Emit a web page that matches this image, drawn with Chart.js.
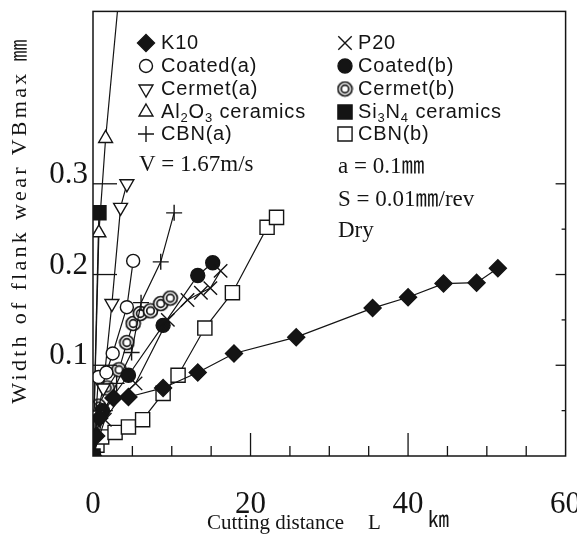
<!DOCTYPE html>
<html><head><meta charset="utf-8">
<script src="https://cdn.jsdelivr.net/npm/chart.js@4.4.1/dist/chart.umd.min.js"></script>
<style>html,body{margin:0;padding:0;background:#fff;}canvas{display:block;}</style>
</head><body>
<canvas id="c" width="577" height="540"></canvas>
<script>
// ---- axis ticks ----
const xTicks = [0, 20, 40, 60];
const xMinorTicks = [5, 10, 15, 25, 30, 35, 45, 50, 55];
const xMajorInner = [20, 40];
const yTicks = [0.1, 0.2, 0.3];
const yRightTicks = [0.05, 0.1, 0.15, 0.2, 0.25, 0.3];

// ---- series (cutting distance km, VBmax mm) ----
const k10X = [0, 0.4, 0.8, 2.6, 4.5, 8.9, 13.3, 17.9, 25.8, 35.5, 40.0, 44.5, 48.7, 51.4];
const k10Y = [0, 0.022, 0.042, 0.064, 0.065, 0.075, 0.092, 0.113, 0.131, 0.163, 0.175, 0.190, 0.191, 0.207];

const coatedAX = [0, 0.7, 1.7, 2.5, 4.3, 5.1];
const coatedAY = [0, 0.087, 0.092, 0.113, 0.164, 0.215];

const cermetAX = [0, 0.5, 1.3, 2.4, 3.5, 4.3];
const cermetAY = [0, 0.045, 0.075, 0.168, 0.274, 0.300];

const al2o3X = [0, 0.75, 1.6, 4.5];
const al2o3Y = [0, 0.246, 0.350, 0.620];

const cbnAX = [0, 1.5, 3.0, 4.9, 6.1, 8.6, 10.3];
const cbnAY = [0, 0.050, 0.080, 0.114, 0.169, 0.214, 0.268];

const p20X = [0, 1.5, 3.5, 5.4, 9.5, 12.0, 13.7, 14.9, 16.2];
const p20Y = [0, 0.040, 0.065, 0.080, 0.150, 0.172, 0.180, 0.185, 0.204];

const coatedBX = [0, 1.2, 4.5, 8.9, 13.3, 15.2];
const coatedBY = [0, 0.050, 0.089, 0.144, 0.199, 0.213];

const cermetBX = [0, 0.7, 1.8, 3.3, 4.3, 5.1, 6.0, 7.3, 8.6, 9.8];
const cermetBY = [0, 0.055, 0.075, 0.095, 0.125, 0.146, 0.157, 0.160, 0.168, 0.174];

const si3n4X = [0, 0.75];
const si3n4Y = [0, 0.268];

const cbnBX = [0, 0.5, 1.1, 2.8, 4.5, 6.3, 8.9, 10.8, 14.2, 17.7, 22.1, 23.3];
const cbnBY = [0, 0.012, 0.021, 0.026, 0.032, 0.040, 0.069, 0.089, 0.141, 0.180, 0.252, 0.263];

const seriesNames = ['K10', 'Coated(a)', 'Cermet(a)', 'Al₂O₃ ceramics', 'CBN(a)',
                     'P20', 'Coated(b)', 'Cermet(b)', 'Si₃N₄ ceramics', 'CBN(b)'];

// ---- helpers ----
const pts = (xs, ys) => xs.map((x, i) => ({x, y: ys[i]}));
const INK = '#141414';

// double circle marker
const dbl = document.createElement('canvas');
dbl.width = 17; dbl.height = 17;
(function(){
  const g = dbl.getContext('2d');
  g.fillStyle = '#fff'; g.strokeStyle = INK; g.lineWidth = 1.7;
  g.beginPath(); g.arc(8.5, 8.5, 7, 0, Math.PI*2); g.fill(); g.stroke();
  g.beginPath(); g.arc(8.5, 8.5, 3.8, 0, Math.PI*2); g.stroke();
})();

const styles = [
  {pointStyle: 'rectRot', radius: 8.5, fill: INK, rot: 0},
  {pointStyle: 'circle', radius: 6.5, fill: '#fff', rot: 0},
  {pointStyle: 'triangle', radius: 8, fill: '#fff', rot: 180},
  {pointStyle: 'triangle', radius: 8, fill: '#fff', rot: 0},
  {pointStyle: 'cross', radius: 8, fill: '#fff', rot: 0},
  {pointStyle: 'crossRot', radius: 9.5, fill: '#fff', rot: 0},
  {pointStyle: 'circle', radius: 7, fill: INK, rot: 0},
  {pointStyle: dbl, radius: 8, fill: '#fff', rot: 0},
  {pointStyle: 'rect', radius: 10, fill: INK, rot: 0},
  {pointStyle: 'rect', radius: 10, fill: '#fff', rot: 0}
];
const seriesData = [
  pts(k10X, k10Y), pts(coatedAX, coatedAY), pts(cermetAX, cermetAY), pts(al2o3X, al2o3Y),
  pts(cbnAX, cbnAY), pts(p20X, p20Y), pts(coatedBX, coatedBY), pts(cermetBX, cermetBY),
  pts(si3n4X, si3n4Y), pts(cbnBX, cbnBY)
];

const datasets = seriesNames.map((name, i) => ({
  label: name,
  data: seriesData[i],
  showLine: true,
  tension: 0,
  borderColor: INK,
  borderWidth: 1.2,
  pointStyle: styles[i].pointStyle,
  pointRadius: styles[i].radius,
  pointRotation: styles[i].rot,
  pointBackgroundColor: styles[i].fill,
  pointBorderColor: INK,
  pointBorderWidth: 1.4
}));

const SERIF = '"Liberation Serif", "Times New Roman", "Noto Sans CJK JP", serif';
const SANS = '"Liberation Sans", Arial, sans-serif';

function drawMarker(ctx, st, x, y) {
  ctx.save();
  ctx.fillStyle = st.fill; ctx.strokeStyle = INK; ctx.lineWidth = 1.4;
  if (Chart.helpers && Chart.helpers.drawPoint) {
    Chart.helpers.drawPoint(ctx, {pointStyle: st.pointStyle, rotation: st.rot, radius: st.radius, borderWidth: 1.4}, x, y);
  }
  ctx.restore();
}

function drawLabel(ctx, text, x, y) {
  // draws text, rendering unicode subscript digits as smaller lowered digits
  const sub = '₀₁₂₃₄₅₆₇₈₉';
  let cx = x;
  for (const ch of text) {
    const k = sub.indexOf(ch);
    if (k >= 0) {
      ctx.font = '13px ' + SANS;
      ctx.fillText(String(k), cx, y + 6);
      cx += ctx.measureText(String(k)).width + 1;
    } else {
      ctx.font = '20px ' + SANS;
      ctx.fillText(ch, cx, y);
      cx += ctx.measureText(ch).width + 0.8;
    }
  }
}

const framePlugin = {
  id: 'frame',
  afterDraw(chart) {
    const {ctx, chartArea: a, scales: {x, y}} = chart;
    ctx.save();
    ctx.strokeStyle = INK; ctx.lineWidth = 1.5;
    ctx.strokeRect(a.left, a.top, a.right - a.left, a.bottom - a.top);
    const seg = (x1, y1, x2, y2) => { ctx.beginPath(); ctx.moveTo(x1, y1); ctx.lineTo(x2, y2); ctx.stroke(); };
    ctx.lineWidth = 1.3;
    xMinorTicks.forEach(v => { const p = x.getPixelForValue(v); seg(p, a.bottom, p, a.bottom - 10); });
    xMajorInner.forEach(v => { const p = x.getPixelForValue(v); seg(p, a.bottom, p, a.bottom - 23); });
    yTicks.forEach(v => { const p = y.getPixelForValue(v); seg(a.left, p, a.left + 24, p); });
    yRightTicks.forEach((v, i) => { const p = y.getPixelForValue(v); seg(a.right, p, a.right - (i % 2 ? 10 : 4), p); });

    // legend
    ctx.fillStyle = INK; ctx.textBaseline = 'middle'; ctx.textAlign = 'left';
    const rows = [43, 66, 89, 112, 134];
    seriesNames.forEach((name, i) => {
      const col = i < 5 ? 0 : 1;
      const r = rows[i % 5];
      const mx = col ? 345 : 146;
      const tx = col ? 358 : 161;
      drawMarker(ctx, styles[i], mx, r);
      ctx.fillStyle = INK;
      drawLabel(ctx, name, tx, r);
    });

    // conditions
    ctx.font = '23px ' + SERIF;
    ctx.fillText('V = 1.67m/s', 139, 165);
    ctx.fillText('a = 0.1㎜', 338, 167);
    ctx.fillText('S = 0.01㎜/rev', 338, 200);
    ctx.fillText('Dry', 338, 231);

    // axis titles
    ctx.font = '21px ' + SERIF;
    ctx.fillText('Cutting distance', 207, 523);
    ctx.fillText('L', 368, 523);
    ctx.fillText('㎞', 428, 520);
    ctx.save();
    ctx.translate(20, 220);
    ctx.rotate(-Math.PI / 2);
    ctx.textAlign = 'center';
    ctx.font = '22px ' + SERIF;
    ctx.letterSpacing = '3.3px';
    ctx.fillText('Width of flank wear VBmax ㎜', 0, 0);
    ctx.restore();
    ctx.restore();
  }
};

new Chart(document.getElementById('c'), {
  type: 'scatter',
  data: {datasets},
  options: {
    responsive: false,
    animation: false,
    devicePixelRatio: 1,
    layout: {padding: {top: 9, right: 5, left: 0, bottom: 0}},
    plugins: {legend: {display: false}, tooltip: {enabled: false}},
    scales: {
      x: {
        type: 'linear', min: 0, max: 60,
        afterBuildTicks(s) { s.ticks = xTicks.map(v => ({value: v})); },
        afterFit(s) { s.height = 84; s.paddingLeft = 0; s.paddingRight = 0; },
        grid: {display: false, drawTicks: false},
        border: {display: false},
        ticks: {padding: 30, color: INK, maxRotation: 0, autoSkip: false,
                font: {family: SERIF, size: 31}}
      },
      y: {
        type: 'linear', min: 0, max: 0.49,
        afterBuildTicks(s) { s.ticks = yTicks.map(v => ({value: v})); },
        afterFit(s) { s.width = 93; s.paddingTop = 0; s.paddingBottom = 0; },
        grid: {display: false, drawTicks: false},
        border: {display: false},
        ticks: {padding: 5, labelOffset: -9, color: INK, autoSkip: false,
                font: {family: SERIF, size: 31},
                callback: v => v.toFixed(1)}
      }
    }
  },
  plugins: [framePlugin]
});
</script>
</body></html>
